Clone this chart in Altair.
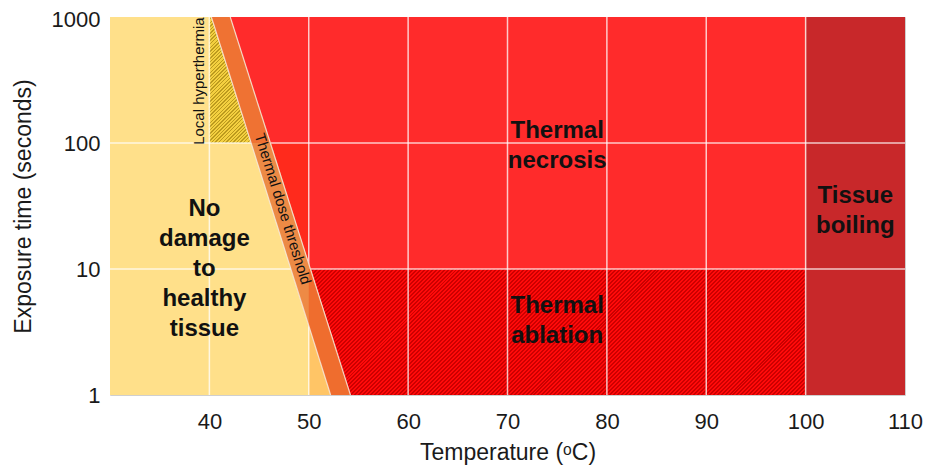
import math
import altair as alt
import pandas as pd

FONT = "Liberation Sans"

# ---- axes -----------------------------------------------------------
x_domain = [30, 110]
y_domain = [1, 1000]
x_ticks = [40, 50, 60, 70, 80, 90, 100, 110]
y_ticks = [1, 10, 100, 1000]
grid_x = [40, 50, 60, 70, 80, 90, 100]
grid_y = [10, 100]

# ---- regions ----------------------------------------------------------
bg_x, bg_x2, bg_y, bg_y2 = [30], [110], [1], [1000]            # no damage (yellow)
lo_x, lo_x2, lo_y, lo_y2 = [50], [53], [1], [10]               # light orange patch
boil_x, boil_x2, boil_y, boil_y2 = [100], [110], [1], [1000]   # tissue boiling

# thermal dose threshold band, edges at each decade
band_y = [1000, 100, 10, 1]
band_left = [40.2, 44.2, 48.2, 52.2]
band_right = [42.1, 46.2, 50.2, 54.2]

# necrosis region (right of band up to 100 C)
nec_y = [1000, 1]
nec_x = [42.1, 54.2]
nec_x2 = [100, 100]

# slightly orange-red patch between band and 50 C (10-100 s)
pr_y = [100, 10]
pr_x = [46.2, 50.2]
pr_x2 = [50, 50]

# thermal ablation (hatched)
abl_y = [10, 1]
abl_x = [50.2, 54.2]
abl_x2 = [100, 100]

# local hyperthermia (hatched triangle)
hyp_y = [1000, 100]
hyp_x = [40, 40]
hyp_x2 = [40.2, 44.2]

# light part of the band below 10 s, left of 50 C
bl_y = [10, 3.56]
bl_x = [48.2, 50]
bl_x2 = [50, 50]

# labels (position of first line)
big_labels = ["Thermal\nnecrosis", "Thermal\nablation", "Tissue\nboiling",
              "No\ndamage\nto\nhealthy\ntissue"]
big_x = [75, 75, 105, 39.5]
big_y = [125, 5.06, 38.3, 30.2]

PW, PH = 795, 378

xs = alt.Scale(domain=x_domain, nice=False, zero=False)
ys = alt.Scale(type="log", domain=y_domain, nice=False)

XAX = alt.Axis(
    values=x_ticks, grid=False, ticks=False, domain=False,
    labelFlush=False, labelOverlap=False,
    labelFont=FONT, labelFontSize=22, labelColor="#1a1a1a", labelPadding=16,
    title="Temperature (ᵒC)", titleFont=FONT, titleFontSize=23,
    titleFontWeight="normal", titleColor="#1a1a1a", titlePadding=9)
YAX = alt.Axis(
    values=y_ticks, format="d", grid=False, ticks=False, domain=False,
    labelFlush=False, labelOverlap=False,
    labelOffset={"condition": {"test": "datum.value >= 1000", "value": 2.5}, "value": 0},
    labelFont=FONT, labelFontSize=22, labelColor="#1a1a1a", labelPadding=10,
    title="Exposure time (seconds)", titleFont=FONT, titleFontSize=23,
    titleFontWeight="normal", titleColor="#1a1a1a", titlePadding=16)


def X(f="x:Q"):
    return alt.X(f, scale=xs, axis=XAX)


def Y(f="y:Q"):
    return alt.Y(f, scale=ys, axis=YAX)


def pxw(a, b):
    return (b - a) * PW / (x_domain[1] - x_domain[0])


def pxh(a, b):
    return (math.log10(b) - math.log10(a)) * PH / 3


def hatch(c1, c2, W, H, period, frac):
    k = (W + H) / (W * W + H * H)
    n = int((W + H) / period) + 1
    stops = []
    for i in range(n):
        a, b, c = i / n, (i + frac) / n, (i + 1) / n
        stops += [alt.GradientStop(color=c1, offset=a),
                  alt.GradientStop(color=c1, offset=b),
                  alt.GradientStop(color=c2, offset=b),
                  alt.GradientStop(color=c2, offset=c)]
    return alt.Gradient(gradient="linear", stops=stops,
                        x1=0, y1=0, x2=W * k, y2=H * k)


def rect(x, x2, y, y2, color):
    df = pd.DataFrame({"x": x, "x2": x2, "y": y, "y2": y2})
    return alt.Chart(df).mark_rect(color=color).encode(
        x=X(), x2="x2:Q", y=Y(), y2="y2:Q")


def harea(y, x, x2, color):
    df = pd.DataFrame({"y": y, "x": x, "x2": x2})
    return alt.Chart(df).mark_area(orient="horizontal", color=color).encode(
        y=Y(), x=X(), x2="x2:Q")


def hline(y, x, color, op, w):
    df = pd.DataFrame({"y": y, "x": x})
    return alt.Chart(df).mark_line(color=color, opacity=op, strokeWidth=w).encode(
        y=Y(), x=X())


abl_grad = hatch("#FF0A0A", "#CC0000",
                 pxw(min(abl_x), max(abl_x2)), pxh(min(abl_y), max(abl_y)), 4.0, 0.5)
hyp_grad = hatch("#F4D040", "#BC9A1E",
                 pxw(min(hyp_x), max(hyp_x2)), pxh(min(hyp_y), max(hyp_y)), 3.6, 0.6)

layers = [
    rect(bg_x, bg_x2, bg_y, bg_y2, "#FFE08A"),
    harea(nec_y, nec_x, nec_x2, "#FF2B2B"),
    harea(pr_y, pr_x, pr_x2, "#FF2A1C"),
    rect(lo_x, lo_x2, lo_y, lo_y2, "#FFC566"),
    harea(abl_y, abl_x, abl_x2, abl_grad),
    rect(boil_x, boil_x2, boil_y, boil_y2, "#C8282A"),
    harea(hyp_y, hyp_x, hyp_x2, hyp_grad),
]

# grid
gx = pd.DataFrame({"x": grid_x})
gy = pd.DataFrame({"y": grid_y})
layers.append(alt.Chart(gx).mark_rule(color="white", opacity=0.75, strokeWidth=1.5)
              .encode(x=X()))
layers.append(alt.Chart(gy).mark_rule(color="white", opacity=0.75, strokeWidth=1.5)
              .encode(y=Y()))

# band segments
layers.append(harea(band_y[0:2], band_left[0:2], band_right[0:2], "#EF7233"))
layers.append(harea(band_y[1:3], band_left[1:3], band_right[1:3], "#EC8A45"))
layers.append(harea(band_y[2:4], band_left[2:4], band_right[2:4], "#EF6D2E"))
layers.append(harea(bl_y, bl_x, bl_x2, "#EE8A45"))
layers.append(hline([band_y[0], band_y[-1]], [band_left[0], band_left[-1]], "#F6EEE6", 0.8, 1.2))
layers.append(hline([band_y[0], band_y[-1]], [band_right[0], band_right[-1]], "#F6EEE6", 0.8, 1.2))

# big labels
bl_df = pd.DataFrame({"t": big_labels, "x": big_x, "y": big_y})
layers.append(alt.Chart(bl_df).mark_text(
    font=FONT, fontSize=24, fontWeight="bold", color="#111111",
    lineBreak="\n", lineHeight=30, align="center", baseline="middle"
).encode(x=X(), y=Y(), text="t:N"))

# rotated labels
thr_df = pd.DataFrame({"t": ["Thermal dose threshold"], "x": [47.4], "y": [30]})
layers.append(alt.Chart(thr_df).mark_text(
    font=FONT, fontSize=15, color="#111111", angle=72.6,
    align="center", baseline="middle"
).encode(x=X(), y=Y(), text="t:N"))

hyp_df = pd.DataFrame({"t": ["Local hyperthermia"], "x": [39.0], "y": [310]})
layers.append(alt.Chart(hyp_df).mark_text(
    font=FONT, fontSize=15, color="#111111", angle=270,
    align="center", baseline="middle"
).encode(x=X(), y=Y(), text="t:N"))

chart = alt.layer(*layers).properties(
    width=PW, height=PH,
    padding={"left": 102, "top": 9, "right": 19, "bottom": 71},
    autosize=alt.AutoSizeParams(type="none"),
).configure_view(stroke="#cfcfcf", strokeWidth=1)

chart.save("out.html", embed_options={"renderer": "svg", "actions": False})
